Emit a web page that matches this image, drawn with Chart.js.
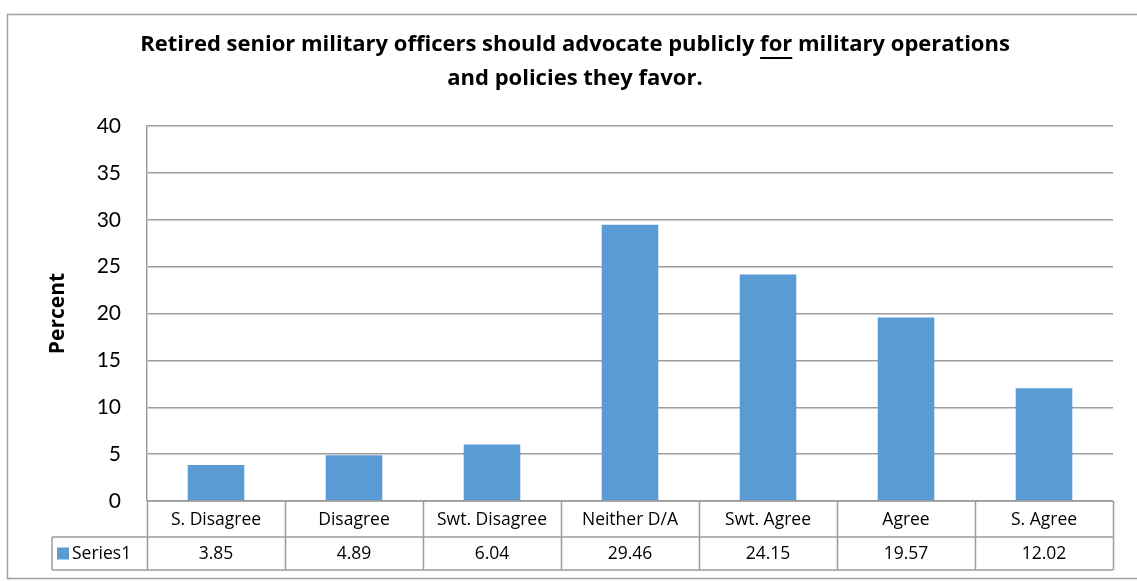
<!DOCTYPE html>
<html lang="en">
<head>
  <meta charset="UTF-8">
  <title>Retired senior military officers - advocate publicly for</title>
  <script src="https://cdn.jsdelivr.net/npm/chart.js"></script>
  <style>
    body { margin: 0; background: #fff; }
    #wrap { width: 1137px; height: 582px; position: relative; }
  </style>
</head>
<body>
  <div id="wrap"><canvas id="grafico" width="1137" height="582"></canvas></div>

  <script>
    // data
    const categories = ['S. Disagree', 'Disagree', 'Swt. Disagree', 'Neither D/A', 'Swt. Agree', 'Agree', 'S. Agree'];
    const series1 = [3.85, 4.89, 6.04, 29.46, 24.15, 19.57, 12.02];
    const seriesName = 'Series1';
    const yTicks = [0, 5, 10, 15, 20, 25, 30, 35, 40];
    const titleLine1 = ['Retired senior military officers should advocate publicly ', 'for', ' military operations'];
    const titleLine2 = 'and policies they favor.';
    const yTitle = 'Percent';

    const BLUE = '#5b9bd5';
    const GRID = '#9d9d9d';
    const FONT = 'Lato, "Open Sans", sans-serif';
    const FONT2 = '"Open Sans", Lato, sans-serif';

    // frame, title, axis title and the data table under the plot
    const extras = {
      id: 'extras',
      beforeDraw(chart) {
        const c = chart.ctx;
        c.save();
        c.fillStyle = '#fff';
        c.fillRect(0, 0, chart.width, chart.height);
        c.strokeStyle = '#a0a0a0';
        c.lineWidth = 1.5;
        c.beginPath();
        c.moveTo(1140, 14.5);
        c.lineTo(7.5, 14.5);
        c.lineTo(7.5, 578.5);
        c.lineTo(1140, 578.5);
        c.stroke();
        c.restore();
      },
      afterDraw(chart) {
        const c = chart.ctx;
        const x = chart.scales.x;
        const area = chart.chartArea;
        c.save();

        // title with underlined "for", sized to the width of the original
        c.fillStyle = '#000';
        c.textBaseline = 'middle';
        c.textAlign = 'left';
        const full = titleLine1.join('');
        c.font = 'bold 20px ' + FONT2;
        let size = 20 * 870 / c.measureText(full).width;
        c.font = 'bold ' + size.toFixed(2) + 'px ' + FONT2;
        let tx = 575 - c.measureText(full).width / 2;
        titleLine1.forEach((part, i) => {
          const w = c.measureText(part).width;
          c.fillText(part, tx, 45);
          if (i === 1) {
            c.fillRect(tx, 57, w, 2);
          }
          tx += w;
        });
        c.textAlign = 'center';
        c.fillText(titleLine2, 575, 79);

        // y axis title
        c.save();
        c.translate(58, (area.top + area.bottom) / 2);
        c.rotate(-Math.PI / 2);
        c.font = 'bold 21px ' + FONT2;
        c.fillText(yTitle, 0, 0);
        c.restore();

        // data table
        const top = area.bottom, mid = area.bottom + 36, bot = area.bottom + 69;
        const labelLeft = 52;
        c.strokeStyle = GRID;
        c.lineWidth = 1.5;
        c.beginPath();
        c.moveTo(area.left, top); c.lineTo(area.right, top);
        c.moveTo(labelLeft, mid); c.lineTo(area.right, mid);
        c.moveTo(labelLeft, bot); c.lineTo(area.right, bot);
        c.moveTo(labelLeft, mid); c.lineTo(labelLeft, bot);
        const n = categories.length;
        const step = (x.getPixelForValue(1) - x.getPixelForValue(0));
        for (let i = 0; i <= n; i++) {
          const px = Math.round(x.getPixelForValue(i) - step / 2) + 0.5;
          c.moveTo(px, top); c.lineTo(px, bot);
        }
        c.stroke();

        c.font = '17.5px ' + FONT2;
        c.fillStyle = '#000';
        c.textAlign = 'center';
        categories.forEach((cat, i) => {
          const px = x.getPixelForValue(i);
          c.fillText(cat, px, (top + mid) / 2 + 1);
          c.fillText(series1[i].toFixed(2), px, (mid + bot) / 2 + 1);
        });
        // legend key
        c.fillStyle = BLUE;
        c.fillRect(57, (mid + bot) / 2 - 6, 12, 12);
        c.fillStyle = '#000';
        c.textAlign = 'left';
        c.fillText(seriesName, 72, (mid + bot) / 2 + 1);
        c.restore();
      }
    };

    new Chart(document.getElementById('grafico'), {
      type: 'bar',
      data: {
        labels: categories,
        datasets: [{
          label: seriesName,
          data: series1,
          backgroundColor: BLUE,
          borderWidth: 0,
          barPercentage: 0.41,
          categoryPercentage: 1
        }]
      },
      options: {
        responsive: false,
        animation: false,
        layout: { padding: { left: 47, right: 24, top: 126, bottom: 81 } },
        plugins: {
          legend: { display: false },
          title: { display: false },
          tooltip: { enabled: false }
        },
        scales: {
          x: { display: false },
          y: {
            min: 0,
            max: 40,
            afterBuildTicks(scale) {
              scale.ticks = yTicks.map(v => ({ value: v }));
            },
            afterFit(scale) { scale.width = 100; },
            ticks: {
              color: '#000',
              padding: 26,
              font: { family: FONT, size: 21 }
            },
            grid: {
              color: GRID,
              lineWidth: 1.5,
              drawTicks: false
            },
            border: { display: true, color: GRID, width: 1.5 }
          }
        }
      },
      plugins: [extras]
    });
  </script>
</body>
</html>
